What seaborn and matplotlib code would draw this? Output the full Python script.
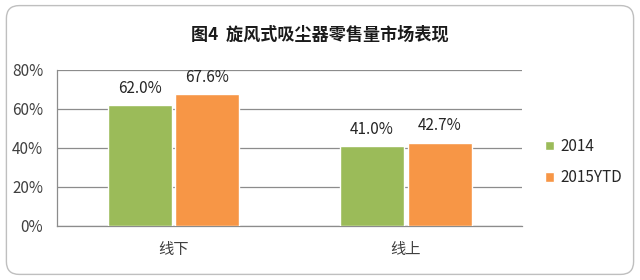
import matplotlib
matplotlib.use("Agg")
import matplotlib.pyplot as plt
import seaborn as sns
import pandas as pd
from matplotlib.patches import FancyBboxPatch

categories = ["线下", "线上"]
series_names = ["2014", "2015YTD"]
values_2014 = [62.0, 41.0]
values_2015 = [67.6, 42.7]
yticks = [0, 20, 40, 60, 80]
title = "图4  旋风式吸尘器零售量市场表现"

sns.set_theme(style="white")
plt.rcParams['font.family'] = ['Noto Sans CJK SC', 'DejaVu Sans']

df = pd.DataFrame({
    "cat": categories * 2,
    "series": [series_names[0]] * 2 + [series_names[1]] * 2,
    "val": values_2014 + values_2015,
})

fig = plt.figure(figsize=(6.4, 2.8), dpi=100)
fig.patch.set_facecolor("white")
border = FancyBboxPatch((0.01, 0.02), 0.98, 0.96, boxstyle="round,pad=0,rounding_size=0.02",
                        transform=fig.transFigure, fc="none", ec="#bfbfbf", lw=1.0,
                        mutation_aspect=640/280, zorder=-1)
fig.patches.append(border)

ax = fig.add_axes([0.089, 0.193, 0.727, 0.557])
ax.set_facecolor("none")
palette = {"2014": "#9BBB59", "2015YTD": "#F79646"}
sns.barplot(data=df, x="cat", y="val", hue="series", palette=palette, ax=ax,
            width=0.58, gap=0.05, saturation=1, zorder=3)

ax.set_ylim(0, 80)
ax.set_yticks(yticks)
ax.set_yticklabels([f"{t}%" for t in yticks], color="#404040", fontsize=11)
ax.tick_params(axis="x", colors="#404040", labelsize=11, length=0, pad=11)
ax.tick_params(axis="y", length=0, pad=10)
ax.set_xlabel("")
ax.set_ylabel("")
ax.yaxis.grid(True, color="#8c8c8c", lw=0.9, zorder=0)
ax.set_axisbelow(True)
for s in ["top", "right"]:
    ax.spines[s].set_visible(False)
for s in ["left", "bottom"]:
    ax.spines[s].set_color("#8c8c8c")
    ax.spines[s].set_linewidth(0.9)

for cont in ax.containers:
    ax.bar_label(cont, labels=[f"{v:.1f}%" for v in cont.datavalues], padding=6,
                 fontsize=11, color="#262626")

leg = ax.legend(loc="center left", bbox_to_anchor=(1.02, 0.41), frameon=False,
                fontsize=11, handlelength=0.6, handleheight=0.6, handletextpad=0.4,
                labelspacing=0.95)
for t in leg.get_texts():
    t.set_color("#262626")

fig.text(0.5, 0.875, title, ha="center", va="center", fontsize=12.3,
         fontweight="bold", color="#1a1a1a")

fig.savefig("out.png", dpi=100)
